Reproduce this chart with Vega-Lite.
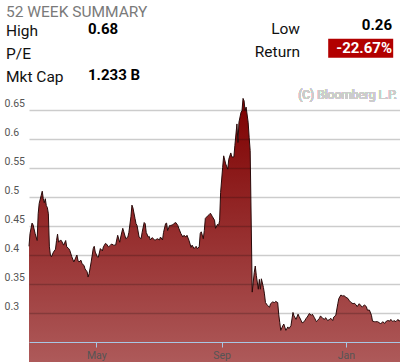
{
  "$schema": "https://vega.github.io/schema/vega-lite/v6.json",
  "padding": 0,
  "spacing": 0,
  "bounds": "full",
  "config": {"view": {"stroke": null}, "font": "Roboto"},
  "datasets": {
    "summary": [
      {"item": "52 WEEK SUMMARY", "value": "", "side": "title", "row": 0},
      {"item": "High", "value": "0.68", "side": "left", "row": 1},
      {"item": "P/E", "value": "", "side": "left", "row": 2},
      {"item": "Mkt Cap", "value": "1.233 B", "side": "left", "row": 3},
      {"item": "Low", "value": "0.26", "side": "right", "row": 1},
      {"item": "Return", "value": "-22.67%", "side": "right", "row": 2}
    ],
    "prices": [
      {"date": "2014-02-24", "close": 0.415}, {"date": "2014-02-25", "close": 0.437}, {"date": "2014-02-27", "close": 0.455}, {"date": "2014-02-28", "close": 0.452},
      {"date": "2014-03-02", "close": 0.437}, {"date": "2014-03-04", "close": 0.425}, {"date": "2014-03-05", "close": 0.471}, {"date": "2014-03-06", "close": 0.489},
      {"date": "2014-03-08", "close": 0.503}, {"date": "2014-03-09", "close": 0.510}, {"date": "2014-03-10", "close": 0.497}, {"date": "2014-03-11", "close": 0.490},
      {"date": "2014-03-12", "close": 0.497}, {"date": "2014-03-13", "close": 0.485}, {"date": "2014-03-14", "close": 0.482}, {"date": "2014-03-15", "close": 0.471},
      {"date": "2014-03-16", "close": 0.414}, {"date": "2014-03-17", "close": 0.400}, {"date": "2014-03-18", "close": 0.397}, {"date": "2014-03-20", "close": 0.405},
      {"date": "2014-03-22", "close": 0.410}, {"date": "2014-03-23", "close": 0.425}, {"date": "2014-03-24", "close": 0.436}, {"date": "2014-03-25", "close": 0.422},
      {"date": "2014-03-27", "close": 0.426}, {"date": "2014-03-28", "close": 0.424}, {"date": "2014-03-30", "close": 0.417}, {"date": "2014-04-01", "close": 0.425},
      {"date": "2014-04-02", "close": 0.414}, {"date": "2014-04-04", "close": 0.411}, {"date": "2014-04-05", "close": 0.408}, {"date": "2014-04-07", "close": 0.397},
      {"date": "2014-04-09", "close": 0.388}, {"date": "2014-04-10", "close": 0.392}, {"date": "2014-04-12", "close": 0.400}, {"date": "2014-04-13", "close": 0.391},
      {"date": "2014-04-14", "close": 0.388}, {"date": "2014-04-16", "close": 0.391}, {"date": "2014-04-17", "close": 0.385}, {"date": "2014-04-19", "close": 0.382},
      {"date": "2014-04-20", "close": 0.376}, {"date": "2014-04-22", "close": 0.371}, {"date": "2014-04-23", "close": 0.362}, {"date": "2014-04-24", "close": 0.368},
      {"date": "2014-04-26", "close": 0.388}, {"date": "2014-04-28", "close": 0.411}, {"date": "2014-04-29", "close": 0.415}, {"date": "2014-04-30", "close": 0.405},
      {"date": "2014-05-02", "close": 0.397}, {"date": "2014-05-03", "close": 0.396}, {"date": "2014-05-05", "close": 0.411}, {"date": "2014-05-07", "close": 0.407},
      {"date": "2014-05-08", "close": 0.414}, {"date": "2014-05-10", "close": 0.420}, {"date": "2014-05-11", "close": 0.419}, {"date": "2014-05-13", "close": 0.414},
      {"date": "2014-05-15", "close": 0.417}, {"date": "2014-05-16", "close": 0.419}, {"date": "2014-05-18", "close": 0.417}, {"date": "2014-05-20", "close": 0.417},
      {"date": "2014-05-22", "close": 0.434}, {"date": "2014-05-24", "close": 0.422}, {"date": "2014-05-25", "close": 0.431}, {"date": "2014-05-27", "close": 0.446},
      {"date": "2014-05-28", "close": 0.440}, {"date": "2014-05-30", "close": 0.428}, {"date": "2014-06-01", "close": 0.431}, {"date": "2014-06-02", "close": 0.439},
      {"date": "2014-06-04", "close": 0.466}, {"date": "2014-06-05", "close": 0.486}, {"date": "2014-06-06", "close": 0.481}, {"date": "2014-06-08", "close": 0.463},
      {"date": "2014-06-09", "close": 0.454}, {"date": "2014-06-10", "close": 0.451}, {"date": "2014-06-12", "close": 0.431}, {"date": "2014-06-14", "close": 0.428},
      {"date": "2014-06-15", "close": 0.439}, {"date": "2014-06-17", "close": 0.456}, {"date": "2014-06-18", "close": 0.454}, {"date": "2014-06-19", "close": 0.439},
      {"date": "2014-06-21", "close": 0.431}, {"date": "2014-06-22", "close": 0.432}, {"date": "2014-06-23", "close": 0.426}, {"date": "2014-06-25", "close": 0.430},
      {"date": "2014-06-27", "close": 0.426}, {"date": "2014-06-28", "close": 0.426}, {"date": "2014-06-30", "close": 0.428}, {"date": "2014-07-02", "close": 0.426},
      {"date": "2014-07-03", "close": 0.431}, {"date": "2014-07-05", "close": 0.426}, {"date": "2014-07-06", "close": 0.439}, {"date": "2014-07-08", "close": 0.454},
      {"date": "2014-07-09", "close": 0.455}, {"date": "2014-07-10", "close": 0.442}, {"date": "2014-07-12", "close": 0.451}, {"date": "2014-07-13", "close": 0.451},
      {"date": "2014-07-15", "close": 0.452}, {"date": "2014-07-16", "close": 0.454}, {"date": "2014-07-18", "close": 0.456}, {"date": "2014-07-20", "close": 0.451},
      {"date": "2014-07-21", "close": 0.446}, {"date": "2014-07-23", "close": 0.437}, {"date": "2014-07-25", "close": 0.431}, {"date": "2014-07-26", "close": 0.434},
      {"date": "2014-07-28", "close": 0.431}, {"date": "2014-07-29", "close": 0.434}, {"date": "2014-07-31", "close": 0.425}, {"date": "2014-08-02", "close": 0.413},
      {"date": "2014-08-03", "close": 0.417}, {"date": "2014-08-05", "close": 0.411}, {"date": "2014-08-07", "close": 0.415}, {"date": "2014-08-08", "close": 0.411},
      {"date": "2014-08-10", "close": 0.414}, {"date": "2014-08-11", "close": 0.437}, {"date": "2014-08-12", "close": 0.440}, {"date": "2014-08-14", "close": 0.428},
      {"date": "2014-08-15", "close": 0.442}, {"date": "2014-08-16", "close": 0.463}, {"date": "2014-08-18", "close": 0.467}, {"date": "2014-08-20", "close": 0.470},
      {"date": "2014-08-21", "close": 0.472}, {"date": "2014-08-23", "close": 0.466}, {"date": "2014-08-25", "close": 0.460}, {"date": "2014-08-26", "close": 0.446},
      {"date": "2014-08-28", "close": 0.453}, {"date": "2014-08-29", "close": 0.451}, {"date": "2014-08-30", "close": 0.459}, {"date": "2014-08-31", "close": 0.508},
      {"date": "2014-09-02", "close": 0.551}, {"date": "2014-09-03", "close": 0.571}, {"date": "2014-09-05", "close": 0.557}, {"date": "2014-09-07", "close": 0.548},
      {"date": "2014-09-08", "close": 0.565}, {"date": "2014-09-10", "close": 0.576}, {"date": "2014-09-11", "close": 0.569}, {"date": "2014-09-13", "close": 0.569},
      {"date": "2014-09-14", "close": 0.589}, {"date": "2014-09-16", "close": 0.626}, {"date": "2014-09-17", "close": 0.594}, {"date": "2014-09-18", "close": 0.629},
      {"date": "2014-09-20", "close": 0.646}, {"date": "2014-09-21", "close": 0.649}, {"date": "2014-09-22", "close": 0.670}, {"date": "2014-09-23", "close": 0.666},
      {"date": "2014-09-24", "close": 0.649}, {"date": "2014-09-25", "close": 0.655}, {"date": "2014-09-27", "close": 0.629}, {"date": "2014-09-28", "close": 0.603},
      {"date": "2014-09-29", "close": 0.580}, {"date": "2014-10-01", "close": 0.336}, {"date": "2014-10-03", "close": 0.370}, {"date": "2014-10-04", "close": 0.381},
      {"date": "2014-10-05", "close": 0.365}, {"date": "2014-10-07", "close": 0.341}, {"date": "2014-10-08", "close": 0.358}, {"date": "2014-10-09", "close": 0.341},
      {"date": "2014-10-10", "close": 0.359}, {"date": "2014-10-12", "close": 0.344}, {"date": "2014-10-13", "close": 0.333}, {"date": "2014-10-14", "close": 0.318},
      {"date": "2014-10-16", "close": 0.313}, {"date": "2014-10-18", "close": 0.310}, {"date": "2014-10-19", "close": 0.316}, {"date": "2014-10-21", "close": 0.319},
      {"date": "2014-10-23", "close": 0.318}, {"date": "2014-10-24", "close": 0.320}, {"date": "2014-10-26", "close": 0.318}, {"date": "2014-10-27", "close": 0.298},
      {"date": "2014-10-28", "close": 0.284}, {"date": "2014-10-29", "close": 0.270}, {"date": "2014-10-31", "close": 0.278}, {"date": "2014-11-01", "close": 0.281},
      {"date": "2014-11-03", "close": 0.270}, {"date": "2014-11-05", "close": 0.276}, {"date": "2014-11-06", "close": 0.273}, {"date": "2014-11-08", "close": 0.278},
      {"date": "2014-11-10", "close": 0.301}, {"date": "2014-11-11", "close": 0.295}, {"date": "2014-11-13", "close": 0.289}, {"date": "2014-11-15", "close": 0.298},
      {"date": "2014-11-16", "close": 0.294}, {"date": "2014-11-18", "close": 0.287}, {"date": "2014-11-19", "close": 0.283}, {"date": "2014-11-21", "close": 0.285},
      {"date": "2014-11-23", "close": 0.291}, {"date": "2014-11-24", "close": 0.293}, {"date": "2014-11-26", "close": 0.299}, {"date": "2014-11-28", "close": 0.296},
      {"date": "2014-11-29", "close": 0.298}, {"date": "2014-12-01", "close": 0.292}, {"date": "2014-12-03", "close": 0.285}, {"date": "2014-12-04", "close": 0.287},
      {"date": "2014-12-06", "close": 0.291}, {"date": "2014-12-07", "close": 0.295}, {"date": "2014-12-09", "close": 0.291}, {"date": "2014-12-11", "close": 0.289},
      {"date": "2014-12-12", "close": 0.292}, {"date": "2014-12-14", "close": 0.287}, {"date": "2014-12-16", "close": 0.289}, {"date": "2014-12-17", "close": 0.291},
      {"date": "2014-12-19", "close": 0.287}, {"date": "2014-12-20", "close": 0.293}, {"date": "2014-12-22", "close": 0.296}, {"date": "2014-12-24", "close": 0.316},
      {"date": "2014-12-25", "close": 0.325}, {"date": "2014-12-27", "close": 0.331}, {"date": "2014-12-29", "close": 0.329}, {"date": "2014-12-30", "close": 0.330},
      {"date": "2015-01-01", "close": 0.327}, {"date": "2015-01-03", "close": 0.325}, {"date": "2015-01-04", "close": 0.322}, {"date": "2015-01-06", "close": 0.318},
      {"date": "2015-01-08", "close": 0.316}, {"date": "2015-01-09", "close": 0.317}, {"date": "2015-01-11", "close": 0.314}, {"date": "2015-01-12", "close": 0.311},
      {"date": "2015-01-14", "close": 0.316}, {"date": "2015-01-16", "close": 0.312}, {"date": "2015-01-17", "close": 0.310}, {"date": "2015-01-19", "close": 0.314},
      {"date": "2015-01-21", "close": 0.311}, {"date": "2015-01-22", "close": 0.305}, {"date": "2015-01-24", "close": 0.305}, {"date": "2015-01-26", "close": 0.296},
      {"date": "2015-01-27", "close": 0.286}, {"date": "2015-01-29", "close": 0.285}, {"date": "2015-01-30", "close": 0.285}, {"date": "2015-02-01", "close": 0.285},
      {"date": "2015-02-03", "close": 0.283}, {"date": "2015-02-04", "close": 0.281}, {"date": "2015-02-06", "close": 0.285}, {"date": "2015-02-08", "close": 0.282},
      {"date": "2015-02-09", "close": 0.285}, {"date": "2015-02-11", "close": 0.287}, {"date": "2015-02-13", "close": 0.286}, {"date": "2015-02-14", "close": 0.289},
      {"date": "2015-02-16", "close": 0.285}, {"date": "2015-02-17", "close": 0.287}, {"date": "2015-02-19", "close": 0.285}, {"date": "2015-02-21", "close": 0.289},
      {"date": "2015-02-22", "close": 0.286}, {"date": "2015-02-23", "close": 0.287}
    ]
  },
  "vconcat": [
    {
      "width": 371,
      "height": 86,
      "data": {"name": "summary"},
      "encoding": {
        "y": {"field": "row", "type": "quantitative", "scale": {"domain": [0, 3], "range": [12.5, 81.5], "nice": false, "zero": false}, "axis": null}
      },
      "layer": [
        {
          "transform": [{"filter": "datum.side === 'title'"}],
          "mark": {"type": "text", "align": "left", "baseline": "alphabetic", "fontSize": 15.5, "color": "#7a7a7a", "dy": 4},
          "encoding": {
            "x": {"field": "side", "type": "nominal", "scale": {"type": "point", "domain": ["title"], "range": [-23, -23], "padding": 0}, "axis": null},
            "text": {"field": "item"}
          }
        },
        {
          "transform": [{"filter": "datum.side === 'left'"}],
          "mark": {"type": "text", "align": "left", "baseline": "alphabetic", "fontSize": 15.5, "color": "#111111"},
          "encoding": {
            "x": {"field": "side", "type": "nominal", "scale": {"type": "point", "domain": ["left"], "range": [-23, -23], "padding": 0}, "axis": null},
            "text": {"field": "item"}
          }
        },
        {
          "transform": [{"filter": "datum.side === 'left'"}],
          "mark": {"type": "text", "align": "left", "baseline": "alphabetic", "fontSize": 15, "fontWeight": "bold", "color": "#000000", "dy": -2},
          "encoding": {
            "x": {"field": "side", "type": "nominal", "scale": {"type": "point", "domain": ["left"], "range": [59, 59], "padding": 0}, "axis": null},
            "text": {"field": "value"}
          }
        },
        {
          "transform": [{"filter": "datum.side === 'right'"}],
          "mark": {"type": "text", "align": "right", "baseline": "alphabetic", "fontSize": 15.5, "color": "#111111", "dy": -2},
          "encoding": {
            "x": {"field": "side", "type": "nominal", "scale": {"type": "point", "domain": ["right"], "range": [271, 271], "padding": 0}, "axis": null},
            "text": {"field": "item"}
          }
        },
        {
          "transform": [{"filter": "datum.item === 'Return'"}],
          "mark": {"type": "rect", "width": 65, "height": 19, "color": "#b20000", "yOffset": -10.3},
          "encoding": {
            "x": {"field": "side", "type": "nominal", "scale": {"type": "point", "domain": ["right"], "range": [331.7, 331.7], "padding": 0}, "axis": null}
          }
        },
        {
          "transform": [{"filter": "datum.side === 'right'"}],
          "mark": {"type": "text", "align": "right", "baseline": "alphabetic", "fontSize": 15, "fontWeight": "bold", "dy": -5.5},
          "encoding": {
            "x": {"field": "side", "type": "nominal", "scale": {"type": "point", "domain": ["right"], "range": [363, 363], "padding": 0}, "axis": null},
            "text": {"field": "value"},
            "color": {"condition": {"test": "datum.item === 'Return'", "value": "#ffffff"}, "value": "#000000"}
          }
        }
      ],
      "resolve": {"scale": {"x": "independent"}}
    },
    {
      "width": 371,
      "height": 256,
      "data": {"name": "prices"},
      "layer": [
        {
          "mark": {
            "type": "area",
            "fill": {"gradient": "linear", "x1": 0, "y1": 0, "x2": 0, "y2": 1, "stops": [{"offset": 0, "color": "#7e0000"}, {"offset": 1, "color": "#c48484"}]},
            "fillOpacity": 1,
            "line": {"color": "#2a0a0a", "strokeWidth": 1}
          },
          "encoding": {
            "x": {
              "field": "date", "type": "temporal",
              "axis": {
                "title": null, "grid": false, "format": "%b",
                "values": [{"year": 2014, "month": 5, "date": 1}, {"year": 2014, "month": 9, "date": 1}, {"year": 2015, "month": 1, "date": 1}],
                "labelFontSize": 10.5, "labelColor": "#555555", "labelPadding": 3,
                "domainColor": "#a8c6e4", "domainWidth": 1, "tickColor": "#a8c6e4", "tickSize": 5, "zindex": 1
              }
            },
            "y": {
              "field": "close", "type": "quantitative",
              "scale": {"domain": [0.25, 0.6914], "nice": false, "zero": false},
              "axis": {
                "title": null, "domain": false, "ticks": false, "labelOverlap": false, "tickCount": 12,
                "values": [0.3, 0.35, 0.4, 0.45, 0.5, 0.55, 0.6, 0.65], "format": ".2~f",
                "labelAlign": "left", "labelBaseline": "alphabetic", "labelOffset": -4, "labelPadding": 25,
                "labelFontSize": 10.5, "labelColor": "#555555",
                "minExtent": 29, "maxExtent": 29,
                "gridColor": "#000000", "gridOpacity": 0.2, "gridWidth": 1.6, "zindex": 1
              }
            }
          }
        },
        {
          "mark": {"type": "text", "align": "right", "baseline": "alphabetic", "dx": -3, "dy": 13, "fontSize": 12, "color": "#cccccc"},
          "encoding": {
            "x": {"datum": {"year": 2015, "month": 2, "date": 23}, "type": "temporal"},
            "y": {"datum": 0.6914, "type": "quantitative"},
            "text": {"value": "(C) Bloomberg L.P."}
          }
        }
      ]
    }
  ]
}
